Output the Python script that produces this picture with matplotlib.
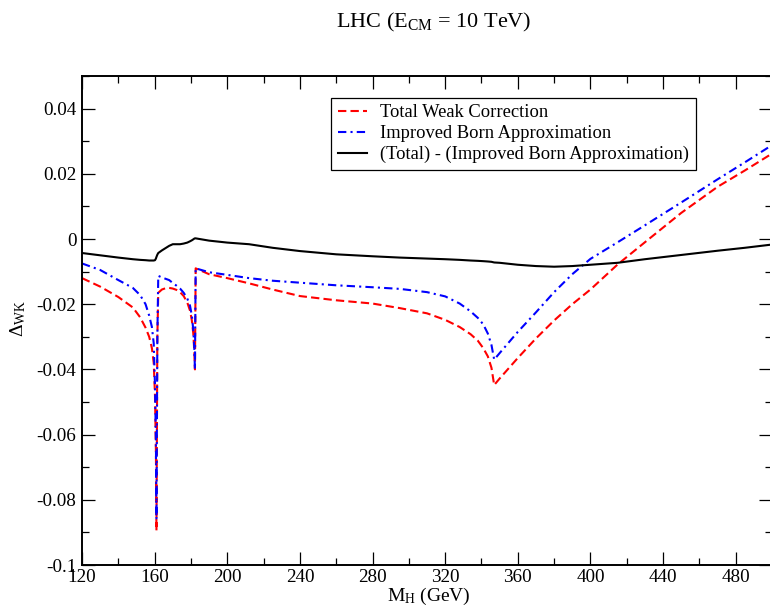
import numpy as np
import matplotlib
matplotlib.use("Agg")
import matplotlib.pyplot as plt
from matplotlib.ticker import MultipleLocator, FixedLocator, FixedFormatter

plt.rcParams['font.family'] = ['Liberation Serif', 'DejaVu Serif']
plt.rcParams['mathtext.fontset'] = 'custom'
plt.rcParams['mathtext.rm'] = 'Liberation Serif'
plt.rcParams['mathtext.it'] = 'Liberation Serif:italic'
plt.rcParams['lines.scale_dashes'] = False

# Higgs mass grid (GeV)
mh = [120, 130, 140, 148, 152, 155, 157, 158.5, 159.5, 160.2, 160.7, 161.0, 161.5, 162.0,
      164, 166, 168, 170, 172, 174, 176, 178, 179.5, 180.5, 181.3, 181.8, 182.2, 182.6,
      190, 200, 212, 225, 240, 260, 280, 295, 310, 320, 328, 334, 338, 341, 343.5, 345.5,
      347, 350, 360, 370, 380, 390, 400, 415, 430, 450, 470, 485, 500]

# Total weak correction
total_wk = [-0.0120, -0.0146, -0.0178, -0.0210, -0.0240, -0.0272, -0.0300, -0.0335, -0.0380,
            -0.0480, -0.0650, -0.0895, -0.0300, -0.0165,
            -0.0155, -0.0151, -0.0150, -0.0152, -0.0156, -0.0163, -0.0175, -0.0195, -0.0220,
            -0.0250, -0.0290, -0.0340, -0.0400, -0.0090,
            -0.0108, -0.0120, -0.0136, -0.0155, -0.0175, -0.0188, -0.0198, -0.0212, -0.0228,
            -0.0248, -0.0270, -0.0292, -0.0312, -0.0335, -0.0360, -0.0395,
            -0.0448, -0.0428, -0.0365, -0.0305, -0.0250, -0.0200, -0.0155, -0.0078, -0.0010,
            0.0080, 0.0160, 0.0210, 0.0262]

# Improved Born approximation
iba = [-0.0075, -0.0095, -0.0126, -0.0150, -0.0172, -0.0200, -0.0235, -0.0270, -0.0320,
       -0.0450, -0.0620, -0.0860, -0.0300, -0.0113,
       -0.0118, -0.0122, -0.0126, -0.0135, -0.0143, -0.0152, -0.0165, -0.0183, -0.0205,
       -0.0235, -0.0280, -0.0330, -0.0400, -0.0090,
       -0.0102, -0.0110, -0.0120, -0.0128, -0.0134, -0.0142, -0.0148, -0.0153, -0.0163,
       -0.0176, -0.0198, -0.0222, -0.0242, -0.0262, -0.0290, -0.0325,
       -0.0370, -0.0350, -0.0285, -0.0225, -0.0163, -0.0108, -0.0061, -0.0010, 0.0042,
       0.0112, 0.0183, 0.0235, 0.0288]

# (Total) - (IBA)
diff = [-0.0043, -0.0050, -0.0057, -0.0062, -0.0064, -0.0065, -0.0066, -0.0066, -0.0066,
        -0.0065, -0.0060, -0.0055, -0.0048, -0.0043,
        -0.0035, -0.0028, -0.0021, -0.0016, -0.0016, -0.0016, -0.0014, -0.0011, -0.0007,
        -0.0004, -0.0001, 0.0001, 0.0002, 0.0002,
        -0.0005, -0.0011, -0.0016, -0.0027, -0.0037, -0.0047, -0.0053, -0.0057, -0.0060,
        -0.0062, -0.0064, -0.0066, -0.0067, -0.0068, -0.0069, -0.0070,
        -0.0072, -0.0073, -0.0079, -0.0083, -0.0085, -0.0083, -0.0079, -0.0073, -0.0062,
        -0.0049, -0.0036, -0.0027, -0.0017]

labels = ['Total Weak Correction', 'Improved Born Approximation',
          '(Total) - (Improved Born Approximation)']

yticks = [-0.1, -0.08, -0.06, -0.04, -0.02, 0, 0.02, 0.04]
yticklabels = ['-0.1', '-0.08', '-0.06', '-0.04', '-0.02', '0', '0.02', '0.04']

fig = plt.figure(figsize=(7.7, 6.09), dpi=100)
ax = fig.add_axes([82 / 770, 44 / 609, 690 / 770, 489 / 609])

ax.plot(mh, total_wk, color='red', lw=1.5, dashes=(6, 3), label=labels[0])
ax.plot(mh, iba, color='blue', lw=1.5, dashes=(6, 3, 1.5, 3), label=labels[1])
ax.plot(mh, diff, color='black', lw=1.5, label=labels[2])

ax.set_xlim(120, 500)
ax.set_ylim(-0.1, 0.05)
ax.xaxis.set_major_locator(MultipleLocator(40))
ax.xaxis.set_minor_locator(MultipleLocator(20))
ax.yaxis.set_major_locator(FixedLocator(yticks))
ax.yaxis.set_major_formatter(FixedFormatter(yticklabels))
ax.yaxis.set_minor_locator(MultipleLocator(0.01))

ax.tick_params(which='both', direction='in', top=True, right=True, width=0.9, labelsize=13.8)
ax.tick_params(which='major', length=9.5)
ax.tick_params(which='minor', length=5)
ax.tick_params(axis='y', pad=4)
ax.tick_params(axis='x', pad=3)
for s in ax.spines.values():
    s.set_linewidth(1.4)

leg = ax.legend(loc='upper left', bbox_to_anchor=(0.361, 0.955), borderaxespad=0,
                fontsize=13.3, handlelength=1.6, handletextpad=0.7, borderpad=0.35,
                labelspacing=0.2, fancybox=False, framealpha=1)
leg.get_frame().set_edgecolor('black')
leg.get_frame().set_linewidth(0.9)

fig.text(434 / 770, 1 - 22 / 609, r'LHC (E$_{\rm CM}$ = 10 TeV)', ha='center', va='center', fontsize=16)
fig.text(429 / 770, 1 - 596 / 609, r'M$_{\rm H}$ (GeV)', ha='center', va='center', fontsize=14)
fig.text(18 / 770, 1 - 318 / 609, r'$\Delta_{\rm WK}$', ha='center', va='center', rotation=90, fontsize=14)

fig.savefig('out.png', dpi=100)
